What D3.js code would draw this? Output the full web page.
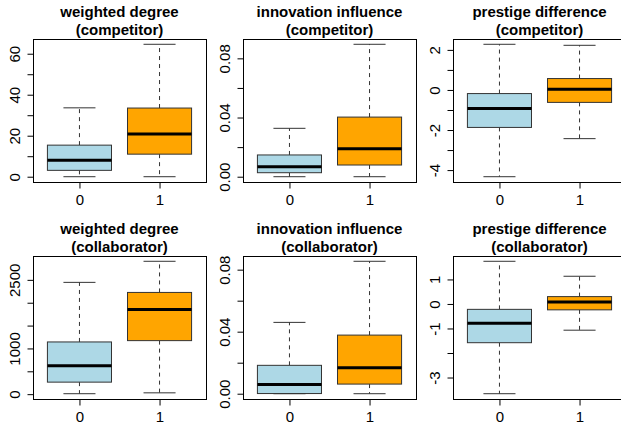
<!DOCTYPE html>
<html>
<head>
<meta charset="utf-8">
<script src="https://cdn.jsdelivr.net/npm/d3@7"></script>
<style>
	body { margin: 0; background: #fff; }
	svg { display: block; }
	text { font-family: "Liberation Sans", Arial, Helvetica, sans-serif; fill: #000; }
</style>
</head>
<body>
<svg id="chart"></svg>
<script>
// groups on the x axis
const groups = ['0', '1']
const boxColors = ['#add8e6', '#ffa500']

// panel titles (two lines each)
const titles = [
	['weighted degree', '(competitor)'],
	['innovation influence', '(competitor)'],
	['prestige difference', '(competitor)'],
	['weighted degree', '(collaborator)'],
	['innovation influence', '(collaborator)'],
	['prestige difference', '(collaborator)'],
]

// box stats per group: [lower whisker, Q1, median, Q3, upper whisker]
const wdCompetitor = [[0, 3.1, 8.0, 15.4, 33.6], [0, 11.0, 20.8, 33.5, 64.6]]
const iiCompetitor = [[0, 0.0027, 0.0068, 0.0147, 0.0327], [0, 0.0079, 0.0189, 0.0403, 0.0895]]
const pdCompetitor = [[-4.33, -1.87, -0.93, -0.18, 2.28], [-2.43, -0.62, 0.03, 0.57, 2.23]]
const wdCollaborator = [[10, 263, 622, 1142, 2445], [29, 1171, 1852, 2225, 2906]]
const iiCollaborator = [[0, 0.0001, 0.0060, 0.0183, 0.0460], [0, 0.0062, 0.0168, 0.0378, 0.0854]]
const pdCollaborator = [[-3.66, -1.58, -0.79, -0.22, 1.74], [-1.07, -0.24, 0.08, 0.30, 1.13]]

// y ticks and which of them carry a label
const wdCompTicks = [0, 10, 20, 30, 40, 50, 60]
const wdCompLabels = [0, 20, 40, 60]
const iiTicks = [0, 0.02, 0.04, 0.06, 0.08]
const iiLabels = [0, 0.04, 0.08]
const pdCompTicks = [-4, -3, -2, -1, 0, 1, 2]
const pdCompLabels = [-4, -2, 0, 2]
const wdCollTicks = [0, 500, 1000, 1500, 2000, 2500]
const wdCollLabels = [0, 1000, 2500]
const pdCollTicks = [-3, -2, -1, 0, 1]
const pdCollLabels = [-3, -1, 0, 1]

//plain hyphen minus like R
const locale = d3.formatLocale({ decimal: '.', thousands: ',', grouping: [3], currency: ['', ''], minus: '-' })

const panels = [
	{ stats: wdCompetitor, ticks: wdCompTicks, labels: wdCompLabels, fmt: locale.format('d') },
	{ stats: iiCompetitor, ticks: iiTicks, labels: iiLabels, fmt: locale.format('.2f') },
	{ stats: pdCompetitor, ticks: pdCompTicks, labels: pdCompLabels, fmt: locale.format('d') },
	{ stats: wdCollaborator, ticks: wdCollTicks, labels: wdCollLabels, fmt: locale.format('d') },
	{ stats: iiCollaborator, ticks: iiTicks, labels: iiLabels, fmt: locale.format('.2f') },
	{ stats: pdCollaborator, ticks: pdCollTicks, labels: pdCollLabels, fmt: locale.format('d') },
]

//svg size and panel layout
const svgWidth = 621,
	svgHeight = 428
const panelW = 210,
	panelH = 217
const marginLeft = 33,
	marginTop = 39,
	plotW = 173,
	plotH = 143

const svg = d3.select('#chart').attr('width', svgWidth).attr('height', svgHeight)

panels.forEach(function (p, i) {
	const col = i % 3,
		row = Math.floor(i / 3)
	const left = col * panelW + marginLeft
	const top = row * panelH + marginTop

	const g = svg.append('g')

	//x scale: groups at 1 and 2, R style 4% padding
	const x = d3.scaleLinear().domain([0.42, 2.58]).range([left, left + plotW])

	const all = p.stats.flat()
	const lo = d3.min(all),
		hi = d3.max(all)
	const pad = (hi - lo) * 0.04
	const y = d3
		.scaleLinear()
		.domain([lo - pad, hi + pad])
		.range([top + plotH, top])

	//titles
	const cx = left + plotW / 2
	g.append('text')
		.attr('x', cx)
		.attr('y', row * panelH + 16.5)
		.attr('text-anchor', 'middle')
		.style('font-size', '15px')
		.style('font-weight', 'bold')
		.text(titles[i][0])
	g.append('text')
		.attr('x', cx)
		.attr('y', row * panelH + 35)
		.attr('text-anchor', 'middle')
		.style('font-size', '15px')
		.style('font-weight', 'bold')
		.text(titles[i][1])

	//boxes
	p.stats.forEach(function (s, k) {
		const c = x(k + 1)
		const bw = x(k + 1.4) - c //half box width
		const sw = x(k + 1.2) - c //half staple width

		//whiskers
		g.append('line')
			.attr('x1', c).attr('x2', c)
			.attr('y1', y(s[3])).attr('y2', y(s[4]))
			.attr('stroke', '#333').attr('stroke-dasharray', '4,4')
		g.append('line')
			.attr('x1', c).attr('x2', c)
			.attr('y1', y(s[1])).attr('y2', y(s[0]))
			.attr('stroke', '#333').attr('stroke-dasharray', '4,4')
		//staples
		g.append('line')
			.attr('x1', c - sw).attr('x2', c + sw)
			.attr('y1', y(s[4])).attr('y2', y(s[4]))
			.attr('stroke', '#333')
		g.append('line')
			.attr('x1', c - sw).attr('x2', c + sw)
			.attr('y1', y(s[0])).attr('y2', y(s[0]))
			.attr('stroke', '#333')
		//box
		g.append('rect')
			.attr('x', c - bw)
			.attr('y', y(s[3]))
			.attr('width', bw * 2)
			.attr('height', y(s[1]) - y(s[3]))
			.attr('fill', boxColors[k])
			.attr('stroke', '#333')
		//median
		g.append('line')
			.attr('x1', c - bw).attr('x2', c + bw)
			.attr('y1', y(s[2])).attr('y2', y(s[2]))
			.attr('stroke', '#000').attr('stroke-width', 3)
	})

	//frame
	g.append('rect')
		.attr('x', left + 0.5)
		.attr('y', top + 0.5)
		.attr('width', plotW)
		.attr('height', plotH)
		.attr('fill', 'none')
		.attr('stroke', '#000')

	//y axis
	const yAxis = d3
		.axisLeft(y)
		.tickValues(p.ticks)
		.tickSize(6)
		.tickFormat(function (d) {
			return p.labels.indexOf(d) >= 0 ? p.fmt(d) : ''
		})
	const ya = g.append('g').attr('transform', 'translate(' + (left + 0.5) + ',0)').call(yAxis)
	ya.select('.domain').remove()
	ya.selectAll('line').attr('stroke', '#000')
	ya.selectAll('text')
		.attr('transform', 'rotate(-90)')
		.attr('x', 0)
		.attr('y', -13.5)
		.attr('dy', null)
		.attr('text-anchor', 'middle')
		.style('font-size', '15px')
		.style('font-family', '"Liberation Sans", Arial, sans-serif')

	//x axis
	const xAxis = d3
		.axisBottom(x)
		.tickValues([1, 2])
		.tickSize(6)
		.tickFormat(function (d) {
			return groups[d - 1]
		})
	const xa = g.append('g').attr('transform', 'translate(0,' + (top + plotH + 0.5) + ')').call(xAxis)
	xa.select('.domain').remove()
	xa.selectAll('line').attr('stroke', '#000')
	xa.selectAll('text')
		.attr('y', 22.5)
		.attr('dy', null)
		.style('font-size', '15px')
		.style('font-family', '"Liberation Sans", Arial, sans-serif')
})
</script>
</body>
</html>
